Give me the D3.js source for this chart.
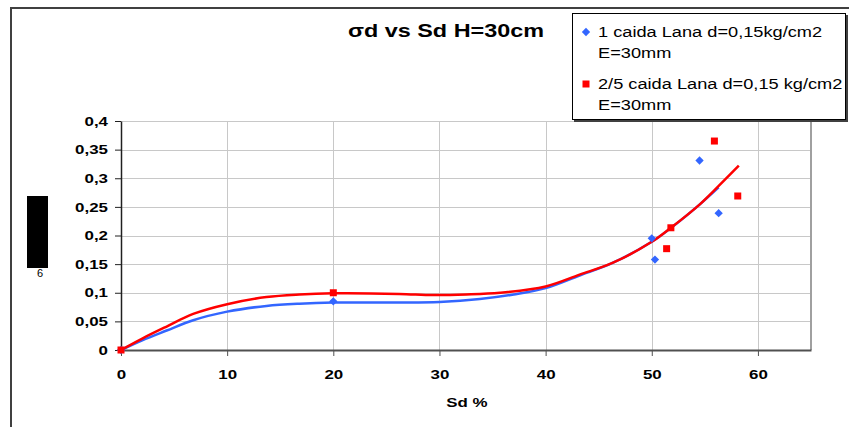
<!DOCTYPE html>
<html>
<head>
<meta charset="utf-8">
<script src="https://cdn.jsdelivr.net/npm/d3@7"></script>
<style>
    body { margin: 0; background: white; }
    svg text { font-family: "Liberation Sans", Arial, sans-serif; }
</style>
</head>
<body>
<script>
// measured points
const series_1_x = [0, 20, 50.0, 50.3, 54.5, 56.3];
const series_1_y = [0, 0.085, 0.195, 0.158, 0.331, 0.239];
const series_2_x = [0, 20, 51.4, 51.8, 55.9, 58.1];
const series_2_y = [0, 0.1, 0.177, 0.2135, 0.365, 0.269];

// trend lines
const trend_1_x = [0, 2, 4.3, 6.8, 10, 13.7, 16.8, 20, 26.2, 30, 33.8, 37, 40, 43.2, 46.3, 50, 51.8, 54.5, 56.3];
const trend_1_y = [0, 0.017, 0.034, 0.052, 0.067, 0.077, 0.081, 0.083, 0.083, 0.084, 0.089, 0.097, 0.108, 0.13, 0.152, 0.189, 0.213, 0.254, 0.284];
const trend_2_x = [0, 2, 4.3, 6.8, 10, 13.7, 16.8, 20, 26.2, 29.4, 32.5, 35.7, 40, 43.2, 46.3, 50, 51.8, 54.5, 56, 58.2];
const trend_2_y = [0, 0.02, 0.041, 0.063, 0.08, 0.0925, 0.097, 0.099, 0.098, 0.096, 0.097, 0.1, 0.111, 0.1316, 0.152, 0.189, 0.2135, 0.254, 0.281, 0.322];

const x_ticks = [0, 10, 20, 30, 40, 50, 60];
const y_ticks = [0, 0.05, 0.1, 0.15, 0.2, 0.25, 0.3, 0.35, 0.4];

const title = "σd vs Sd H=30cm";
const x_title = "Sd %";
const legend_1 = ["1 caida Lana d=0,15kg/cm2", "E=30mm"];
const legend_2 = ["2/5 caida Lana d=0,15 kg/cm2", "E=30mm"];

const blue = "#3366ff";
const red = "#ff0000";

const wb = 849;
const hb = 427;
const plot = { left: 121, right: 811, top: 121, bottom: 350 };
// the original picture is stretched sideways, text included
const stretch = 1.3;

const svg = d3.select("body")
    .append("svg")
    .attr("width", wb)
    .attr("height", hb);

const widen = sel => sel.each(function () {
    const len = this.getComputedTextLength();
    d3.select(this)
        .attr("textLength", len * stretch)
        .attr("lengthAdjust", "spacingAndGlyphs");
});

// outer chart frame
svg.append("path")
    .attr("d", `M11,${hb + 2} V8 H${wb + 2}`)
    .attr("fill", "none")
    .attr("stroke", "#404040")
    .attr("stroke-width", 2);

const xax = d3.scaleLinear().domain([0, 65]).range([plot.left, plot.right]);
const yax = d3.scaleLinear().domain([0, 0.4]).range([plot.bottom, plot.top]);

const fmt = d => String(d).replace(".", ",");

// grid
svg.append("g")
    .selectAll("line")
    .data(y_ticks.slice(1))
    .join("line")
    .attr("x1", plot.left)
    .attr("x2", plot.right)
    .attr("y1", d => Math.round(yax(d)) + 0.5)
    .attr("y2", d => Math.round(yax(d)) + 0.5)
    .attr("stroke", "#c8c8c8");
svg.append("g")
    .selectAll("line")
    .data(x_ticks.slice(1))
    .join("line")
    .attr("x1", d => Math.round(xax(d)) + 0.5)
    .attr("x2", d => Math.round(xax(d)) + 0.5)
    .attr("y1", plot.top)
    .attr("y2", plot.bottom)
    .attr("stroke", "#c8c8c8");

// plot area right edge
svg.append("line")
    .attr("x1", plot.right)
    .attr("x2", plot.right)
    .attr("y1", plot.top)
    .attr("y2", plot.bottom)
    .attr("stroke", "#a0a0a0")
    .attr("stroke-width", 2);

// axes
const x_axis = svg.append("g")
    .attr("transform", `translate(0, ${plot.bottom})`)
    .call(d3.axisBottom(xax).tickValues(x_ticks).tickSize(6).tickSizeOuter(0).tickPadding(14));
x_axis.select(".domain").attr("stroke", "#505050").attr("stroke-width", 2);
x_axis.selectAll(".tick line").attr("stroke", "#505050");

const y_axis = svg.append("g")
    .attr("transform", `translate(${plot.left}, 0)`)
    .call(d3.axisLeft(yax).tickValues(y_ticks).tickFormat(fmt).tickSize(6).tickSizeOuter(0).tickPadding(7));
y_axis.select(".domain").attr("stroke", "#202020").attr("stroke-width", 1.5);
y_axis.selectAll(".tick line").attr("stroke", "#202020");

svg.selectAll(".tick text")
    .attr("font-family", "Liberation Sans, Arial, sans-serif")
    .attr("font-size", 13)
    .attr("font-weight", "bold")
    .attr("fill", "black")
    .call(widen);

// trend lines
const line = d3.line()
    .x(d => xax(d[0]))
    .y(d => yax(d[1]))
    .curve(d3.curveCatmullRom.alpha(0.5));

svg.append("path")
    .datum(d3.zip(trend_1_x, trend_1_y))
    .attr("d", line)
    .attr("fill", "none")
    .attr("stroke", blue)
    .attr("stroke-width", 2.5);
svg.append("path")
    .datum(d3.zip(trend_2_x, trend_2_y))
    .attr("d", line)
    .attr("fill", "none")
    .attr("stroke", red)
    .attr("stroke-width", 2.5);

// markers
const diamond = d3.symbol().type(d3.symbolDiamond2).size(44);
svg.append("g")
    .selectAll("path")
    .data(d3.zip(series_1_x, series_1_y))
    .join("path")
    .attr("d", diamond)
    .attr("transform", d => `translate(${xax(d[0])}, ${yax(d[1])})`)
    .attr("fill", blue);
svg.append("g")
    .selectAll("rect")
    .data(d3.zip(series_2_x, series_2_y))
    .join("rect")
    .attr("x", d => xax(d[0]) - 3.5)
    .attr("y", d => yax(d[1]) - 3.5)
    .attr("width", 7)
    .attr("height", 7)
    .attr("fill", red);

// titles
svg.append("text")
    .attr("x", 446)
    .attr("y", 37)
    .attr("text-anchor", "middle")
    .attr("font-size", 18)
    .attr("font-weight", "bold")
    .text(title)
    .call(widen);

svg.append("text")
    .attr("x", 467)
    .attr("y", 407)
    .attr("text-anchor", "middle")
    .attr("font-size", 13)
    .attr("font-weight", "bold")
    .text(x_title)
    .call(widen);

// broken y title
svg.append("rect")
    .attr("x", 27)
    .attr("y", 196)
    .attr("width", 21)
    .attr("height", 72)
    .attr("fill", "black");
svg.append("text")
    .attr("x", 40)
    .attr("y", 277)
    .attr("text-anchor", "middle")
    .attr("font-size", 11)
    .text("6");

// legend
const lg = svg.append("g");
lg.append("rect")
    .attr("x", 574)
    .attr("y", 15)
    .attr("width", 274)
    .attr("height", 107)
    .attr("fill", "#404040");
lg.append("rect")
    .attr("x", 572.5)
    .attr("y", 13.5)
    .attr("width", 273)
    .attr("height", 106)
    .attr("fill", "white")
    .attr("stroke", "black");

lg.append("path")
    .attr("d", diamond)
    .attr("transform", "translate(586, 32)")
    .attr("fill", blue);
lg.append("rect")
    .attr("x", 582.5)
    .attr("y", 80.5)
    .attr("width", 7)
    .attr("height", 7)
    .attr("fill", red);

const legend_rows = [
    { t: legend_1[0], y: 37 },
    { t: legend_1[1], y: 58 },
    { t: legend_2[0], y: 89 },
    { t: legend_2[1], y: 110 }
];
lg.selectAll("text")
    .data(legend_rows)
    .join("text")
    .attr("x", 598)
    .attr("y", d => d.y)
    .attr("font-size", 14)
    .text(d => d.t)
    .call(widen);
</script>
</body>
</html>
